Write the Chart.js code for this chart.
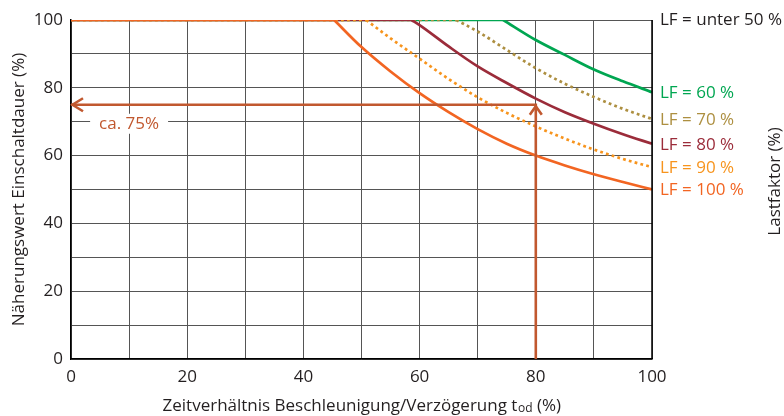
<!DOCTYPE html>
<html>
<head>
<meta charset="utf-8">
<script src="https://cdn.jsdelivr.net/npm/chart.js@4/dist/chart.umd.min.js"></script>
<style>
  html, body { margin: 0; background: #fff; }
  #wrap { width: 784px; height: 416px; position: relative; }
</style>
</head>
<body>
<div id="wrap"><canvas id="chart"></canvas></div>
<script>
/* Einschaltdauer vs. Zeitverhältnis, je Lastfaktor (LF) */

// curve points from the knee (where the curve leaves 100 %) to the right edge
const lf100X = [45.3, 50, 55, 60, 65, 70, 75, 80, 85, 90, 95, 100];
const lf100Y = [100, 92, 84.8, 78.4, 72.8, 67.8, 63.5, 60, 57.1, 54.5, 52.2, 50];
const lf90X = [50.8, 55, 60, 65, 70, 75, 80, 85, 90, 95, 100];
const lf90Y = [100, 94.6, 88.6, 82.6, 77.2, 72.6, 68.6, 65, 61.8, 59, 56.6];
const lf80X = [58.6, 60, 65, 70, 75, 80, 85, 90, 95, 100];
const lf80Y = [100, 98.5, 92.2, 86.3, 81.4, 76.8, 72.8, 69.4, 66.3, 63.5];
const lf70X = [66.3, 70, 75, 80, 85, 90, 95, 100];
const lf70Y = [100, 96.6, 91.2, 85.8, 81.2, 77.3, 73.8, 70.8];
const lf60X = [74.4, 80, 85, 90, 95, 100];
const lf60Y = [100, 94.1, 89.7, 85.4, 81.9, 78.7];

const seriesLabels = ["LF = 100 %", "LF = 90 %", "LF = 80 %", "LF = 70 %", "LF = 60 %"];
const topLabel = "LF = unter 50 %";

// reading example: 80 % -> ca. 75 %
const readX = 80;
const readY = 75;
const noteText = "ca. 75%";

const tickStep = 10;
const labelStep = 20;

const TXT = "#231f20";
const ARROW = "#c1582f";
const FONT = "'Open Sans', sans-serif";

const styles = [
  { color: "#f26522", dash: [] },
  { color: "#f7941d", dash: [2.8, 3.2] },
  { color: "#9b2c3a", dash: [] },
  { color: "#ad8f40", dash: [2.8, 3.2] },
  { color: "#00a651", dash: [] },
];
const curves = [[lf100X, lf100Y], [lf90X, lf90Y], [lf80X, lf80Y], [lf70X, lf70Y], [lf60X, lf60Y]];

const pts = (xs, ys) => xs.map((x, i) => ({ x, y: ys[i] }));

const datasets = [];
curves.forEach(([xs, ys], i) => {
  const st = styles[i];
  // descending part
  datasets.push({
    label: seriesLabels[i], data: pts(xs, ys), borderColor: st.color, borderDash: st.dash,
    borderWidth: 2.7, pointRadius: 0, cubicInterpolationMode: "monotone", fill: false, order: i,
  });
  // flat part at 100 %
  datasets.push({
    label: seriesLabels[i] + " (flach)", data: [{ x: 0, y: ys[0] }, { x: xs[0], y: ys[0] }],
    borderColor: st.color, borderDash: st.dash, borderWidth: 2.7, pointRadius: 0, fill: false, order: i,
  });
});
datasets.push({
  label: "Ablesung", data: [{ x: readX, y: 0 }, { x: readX, y: readY }, { x: 0, y: readY }],
  borderColor: ARROW, borderWidth: 2.6, pointRadius: 0, fill: false, order: -1,
});

/* ---------- extras: frame, arrow heads, note, labels, titles ---------- */
const extras = {
  id: "extras",
  afterDatasetsDraw(chart) {
    const { ctx, chartArea: a, scales: { x: xs, y: ys } } = chart;
    ctx.save();
    // right frame line
    ctx.strokeStyle = "#000"; ctx.lineWidth = 1.5;
    ctx.beginPath(); ctx.moveTo(a.right, a.top); ctx.lineTo(a.right, a.bottom); ctx.stroke();

    // arrow heads
    const px = xs.getPixelForValue(readX), py = ys.getPixelForValue(readY), p0 = xs.getPixelForValue(0);
    ctx.strokeStyle = ARROW; ctx.lineWidth = 2.6; ctx.lineJoin = "miter";
    ctx.beginPath(); ctx.moveTo(p0 + 12, py - 6.5); ctx.lineTo(p0 + 1.5, py); ctx.lineTo(p0 + 12, py + 6.5); ctx.stroke();
    ctx.beginPath(); ctx.moveTo(px - 6, py + 10); ctx.lineTo(px, py + 1.5); ctx.lineTo(px + 6, py + 10); ctx.stroke();

    // note with white box
    ctx.font = "17px " + FONT;
    const nx = xs.getPixelForValue(10), ny = py + 19;
    const w = ctx.measureText(noteText).width;
    ctx.fillStyle = "#fff";
    ctx.fillRect(nx - w / 2 - 9, ny - 10, w + 18, 20);
    ctx.fillStyle = ARROW; ctx.textAlign = "center"; ctx.textBaseline = "middle";
    ctx.fillText(noteText, nx, ny);
    ctx.restore();
  },
  afterDraw(chart) {
    const { ctx, chartArea: a, scales: { x: xs, y: ys } } = chart;
    ctx.save();
    ctx.font = "17px " + FONT;
    ctx.textBaseline = "middle"; ctx.textAlign = "left";
    const lx = a.right + 8;
    ctx.fillStyle = TXT;
    ctx.fillText(topLabel, lx, ys.getPixelForValue(100));
    curves.forEach(([, yv], i) => {
      ctx.fillStyle = styles[i].color;
      ctx.fillText(seriesLabels[i], lx, ys.getPixelForValue(yv[yv.length - 1]) + 1);
    });

    // y title (left)
    ctx.fillStyle = TXT; ctx.textAlign = "center";
    const cy = (a.top + a.bottom) / 2;
    ctx.save(); ctx.translate(19, cy); ctx.rotate(-Math.PI / 2);
    ctx.fillText("Näherungswert Einschaltdauer (%)", 0, 0); ctx.restore();
    // right title
    ctx.save(); ctx.translate(775, cy - 8); ctx.rotate(-Math.PI / 2);
    ctx.fillText("Lastfaktor (%)", 0, 0); ctx.restore();

    // x title with subscript
    const p1 = "Zeitverhältnis Beschleunigung/Verzögerung t", sub = "od", p2 = " (%)";
    ctx.textBaseline = "alphabetic"; ctx.textAlign = "left";
    ctx.font = "17px " + FONT; const w1 = ctx.measureText(p1).width, w3 = ctx.measureText(p2).width;
    ctx.font = "12px " + FONT; const w2 = ctx.measureText(sub).width;
    let x0 = (a.left + a.right) / 2 - (w1 + w2 + w3) / 2;
    const base = 411;
    ctx.font = "17px " + FONT; ctx.fillText(p1, x0, base);
    ctx.font = "12px " + FONT; ctx.fillText(sub, x0 + w1 + 0.5, base + 1);
    ctx.font = "17px " + FONT; ctx.fillText(p2, x0 + w1 + w2 + 0.5, base);
    ctx.restore();
  },
};

const axis = (size) => ({
  type: "linear", min: 0, max: 100,
  ticks: {
    stepSize: tickStep, autoSkip: false, maxRotation: 0, padding: 8, color: TXT,
    font: { family: FONT, size: 17 },
    callback: (v) => (v % labelStep === 0 ? v : ""),
  },
  grid: { color: "#555", lineWidth: 1, drawTicks: false },
  border: { color: "#000", width: 1.5 },
  afterFit: size,
});

new Chart(document.getElementById("chart"), {
  type: "line",
  data: { datasets },
  options: {
    responsive: true, maintainAspectRatio: false, animation: false,
    layout: { padding: { left: 0, right: 132, top: 20, bottom: 0 } },
    plugins: { legend: { display: false }, tooltip: { enabled: false } },
    elements: { line: { borderCapStyle: "butt" } },
    scales: {
      x: axis((s) => { s.height = 57; }),
      y: axis((s) => { s.width = 71; }),
    },
  },
  plugins: [extras],
});
</script>
</body>
</html>
